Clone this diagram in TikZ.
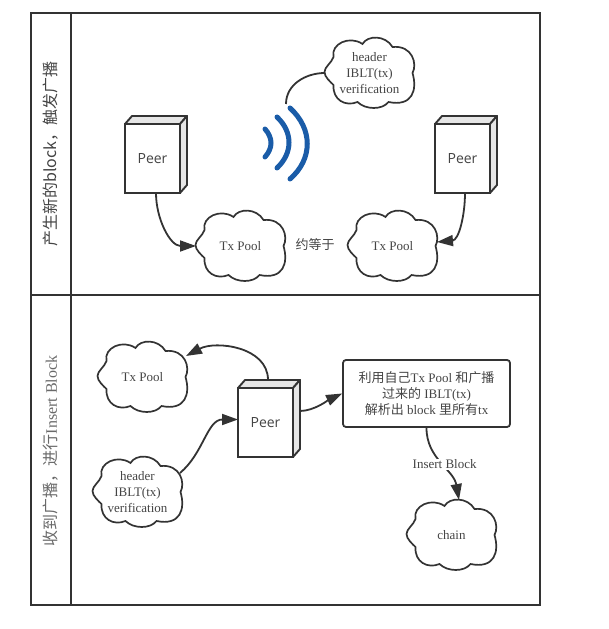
\documentclass[tikz,border=0pt]{standalone}
\usepackage{fontspec}
\setmainfont{Liberation Serif}
\newfontfamily\cjk{Noto Sans CJK SC}
\newfontfamily\peerfont{Open Sans}
\usetikzlibrary{positioning,arrows.meta}
\definecolor{linecol}{HTML}{333333}
\definecolor{textcol}{HTML}{444444}
\definecolor{facecol}{HTML}{E6E6E6}
\definecolor{wavecol}{HTML}{1A5CA8}
\tikzset{
	frame/.style={draw=linecol, line width=2pt}
	,peerbox/.style={draw=linecol, line width=1.9pt, fill=white, minimum width=55pt, minimum height=69pt, inner sep=0pt, outer sep=0pt, text=textcol, font=\peerfont\fontsize{14}{16}\selectfont}
	,face/.style={draw=linecol, line width=1.9pt, fill=facecol, line join=round}
	,puff/.style={minimum width=89pt, minimum height=70pt, inner sep=0pt, outer sep=0pt, align=center, text=textcol, font=\fontsize{13}{16}\selectfont}
	,note/.style={text=textcol, align=center, font=\fontsize{13}{16}\selectfont}
	,side/.style={rotate=90, text=textcol, font=\fontsize{16}{18}\selectfont}
	,link/.style={draw=linecol, line width=1.8pt, -{Triangle[length=16pt,width=11pt]}}
	,plain/.style={draw=linecol, line width=1.8pt}
	,wave/.style={draw=wavecol, line width=5pt, line cap=round}
}
\newcommand{\peernode}[2]{
	\node [peerbox] (#1) at (#2) {Peer};
	\draw [face] (#1.north west) -- ++(7,8) -- ++(55,0) -- (#1.north east) -- cycle;
	\draw [face] (#1.north east) -- ++(7,8) -- ++(0,-69) -- (#1.south east) -- cycle;
}
\newcommand{\cloudnode}[3]{
	\node [puff] (#1) at (#2) {#3};
	\draw [draw=linecol, line width=1.7pt, shift={(#1.center)}]
		(-45,1) .. controls (-45,6) and (-38,10) .. (-36,16)
		.. controls (-39,29) and (-20,38) .. (-7,29)
		.. controls (-2,38) and (16,38) .. (23,26)
		.. controls (43,28) and (48,9) .. (43,0)
		.. controls (48,-17) and (43,-34) .. (19,-29)
		.. controls (13,-37) and (-4,-37) .. (-12,-29)
		.. controls (-24,-34) and (-37,-27) .. (-36,-12)
		.. controls (-39,-9) and (-45,-4) .. (-45,1) -- cycle;
}
\begin{document}
\begin{tikzpicture}[x=1pt,y=1pt]
	\useasboundingbox (0,0) rectangle (608,629);
	% lanes
	\draw [frame] (31,24) rectangle (540,616);
	\draw [frame] (71,24) -- (71,616);
	\draw [frame] (31,334) -- (540,334);
	\node [side] (sideA) at (51,475) {\cjk 产生新的block，触发广播};
	\node [side, opacity=.8] (sideB) at (51,178) {{\cjk 收到广播，进行}Insert Block};

	% upper lane
	\peernode{peerA}{152.5,470.5}
	\peernode{peerB}{462.5,470.5}
	\cloudnode{hdrA}{369.5,556}{header\\IBLT(tx)\\verification}
	\cloudnode{poolA}{240.5,383}{Tx Pool}
	\cloudnode{poolB}{392.5,383}{Tx Pool}
	\node [note] (approx) at (315,384) {\cjk 约等于};
	\coordinate (signal) at (286,525);
	\draw [wave] (290,521) .. controls (313,500) and (313,470) .. (290,450);
	\draw [wave] (277,512) .. controls (293,497) and (293,476) .. (277,461);
	\draw [wave] (265,500) .. controls (273,491) and (273,481) .. (265,472);
	\draw [plain] (hdrA.west) to [out=180, in=90] (signal);
	\draw [link] ([xshift=3.5pt]peerA.south) to [out=-90, in=180] (poolA.west);
	\draw [link] ([xshift=2.5pt]peerB.south) to [out=-90, in=5] ([yshift=4pt]poolB.east);

	% lower lane
	\peernode{peerC}{265.5,206.5}
	\cloudnode{poolC}{142.5,252}{Tx Pool}
	\cloudnode{hdrC}{137.5,137}{header\\IBLT(tx)\\verification}
	\cloudnode{chain}{451.5,94}{chain}
	\node [draw=linecol, line width=1.8pt, rounded corners=3pt, minimum width=167pt, minimum height=67pt, note] (parse) at (426.5,235.5) {{\cjk 利用自己}Tx Pool {\cjk 和广播}\\{\cjk 过来的} IBLT(tx)\\{\cjk 解析出} block {\cjk 里所有}tx};
	\draw [link] ([xshift=2.5pt,yshift=8pt]peerC.north) to [out=90, in=28] ([xshift=-1pt,yshift=21pt]poolC.east);
	\draw [link] ([xshift=-2pt,yshift=19pt]hdrC.east) to [out=40, in=180] ([yshift=3pt]peerC.west);
	\draw [link] ([xshift=7pt,yshift=11.5pt]peerC.east) to [out=0, in=205, looseness=.8] (parse.west);
	\draw [link] (parse.south) to [out=-90, in=100] node [pos=.52, xshift=3pt, yshift=1pt, note, fill=white, inner sep=1pt] (insert) {Insert Block} ([xshift=7.5pt]chain.north);
\end{tikzpicture}
\end{document}
